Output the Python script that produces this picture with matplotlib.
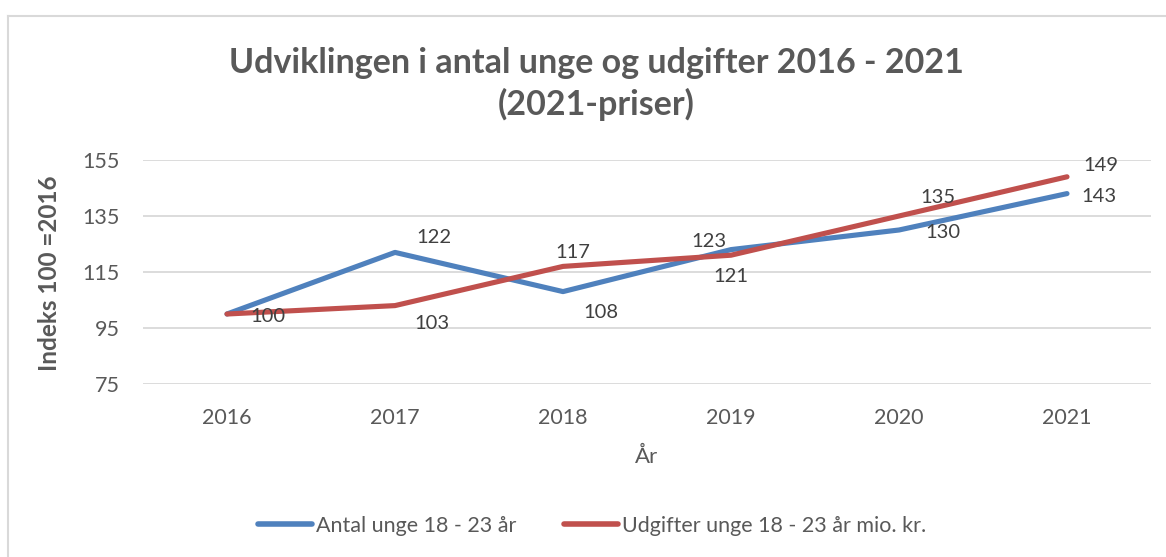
import matplotlib.pyplot as plt
from matplotlib.lines import Line2D

# Data
years = ['2016', '2017', '2018', '2019', '2020', '2021']
antal = [100, 122, 108, 123, 130, 143]
udgifter = [100, 103, 117, 121, 135, 149]

# label offsets (pixels) for the data labels
off_antal = [None, (39, 15), (38, -21), (-22, 8), (44, -3), (32, -3)]
off_udg = [(41, -2), (37, -18), (10, 14), (0, -21), (39, 18), (34, 11)]

blue = '#4F81BD'
red = '#C0504D'
grey = '#595959'
lab_col = '#404040'

plt.rcParams['font.family'] = ['Lato', 'DejaVu Sans']

fig = plt.figure(figsize=(11.66, 5.57), dpi=100)
ax = fig.add_axes([143 / 1166, 1 - 384 / 557, (1151 - 143) / 1166, 224 / 557])

x = list(range(len(years)))
ax.plot(x, antal, color=blue, lw=3.7, solid_capstyle='round', solid_joinstyle='round',
        label='Antal unge 18 - 23 år', zorder=3)
ax.plot(x, udgifter, color=red, lw=3.7, solid_capstyle='round', solid_joinstyle='round',
        label='Udgifter unge 18 - 23 år mio. kr.', zorder=3)

for i, v in enumerate(antal):
    if off_antal[i] is None:
        continue
    ax.annotate(str(v), (i, v), xytext=off_antal[i], textcoords='offset pixels',
                ha='center', va='center', fontsize=14.5, color=lab_col, zorder=4)
for i, v in enumerate(udgifter):
    ax.annotate(str(v), (i, v), xytext=off_udg[i], textcoords='offset pixels',
                ha='center', va='center', fontsize=14.5, color=lab_col, zorder=4)

ax.set_xlim(-0.5, len(years) - 0.5)
ax.set_ylim(75, 155)
ax.set_yticks([75, 95, 115, 135, 155])
ax.set_xticks(x)
ax.set_xticklabels(years)
ax.grid(axis='y', color='#D9D9D9', lw=1.3)
ax.set_axisbelow(True)
for s in ax.spines.values():
    s.set_visible(False)
ax.tick_params(length=0, labelsize=15.5, colors=grey, pad=17)
ax.tick_params(axis='x', pad=17)

ax.set_xlabel('År', fontsize=16, color=grey, labelpad=14)
ax.set_ylabel('Indeks 100 =2016', fontsize=17.5, color=grey, fontweight='bold')
ax.yaxis.set_label_coords((61 - 143) / 1008, (384 - 273) / 224)

fig.text(596 / 1166, 1 - 84 / 557, 'Udviklingen i antal unge og udgifter 2016 - 2021\n(2021-priser)',
         ha='center', va='center', fontsize=24.5, fontweight='bold', color=grey, linespacing=1.33)

leg = fig.legend(loc='center left', bbox_to_anchor=(258 / 1166, 1 - 526 / 557), ncol=2, frameon=False,
                 fontsize=15.5, labelcolor=grey, handlelength=2.5, handletextpad=0.2,
                 columnspacing=2.2, borderpad=0, borderaxespad=0)
for h in leg.legend_handles:
    h.set_linewidth(4.0)

# chart border
fig.add_artist(Line2D([8 / 1166, 8 / 1166], [0, 1 - 16 / 557], transform=fig.transFigure,
                      color='#D9D9D9', lw=1.5))
fig.add_artist(Line2D([8 / 1166, 1], [1 - 16 / 557, 1 - 16 / 557], transform=fig.transFigure,
                      color='#D9D9D9', lw=1.5))

fig.savefig('out.png', dpi=100)
